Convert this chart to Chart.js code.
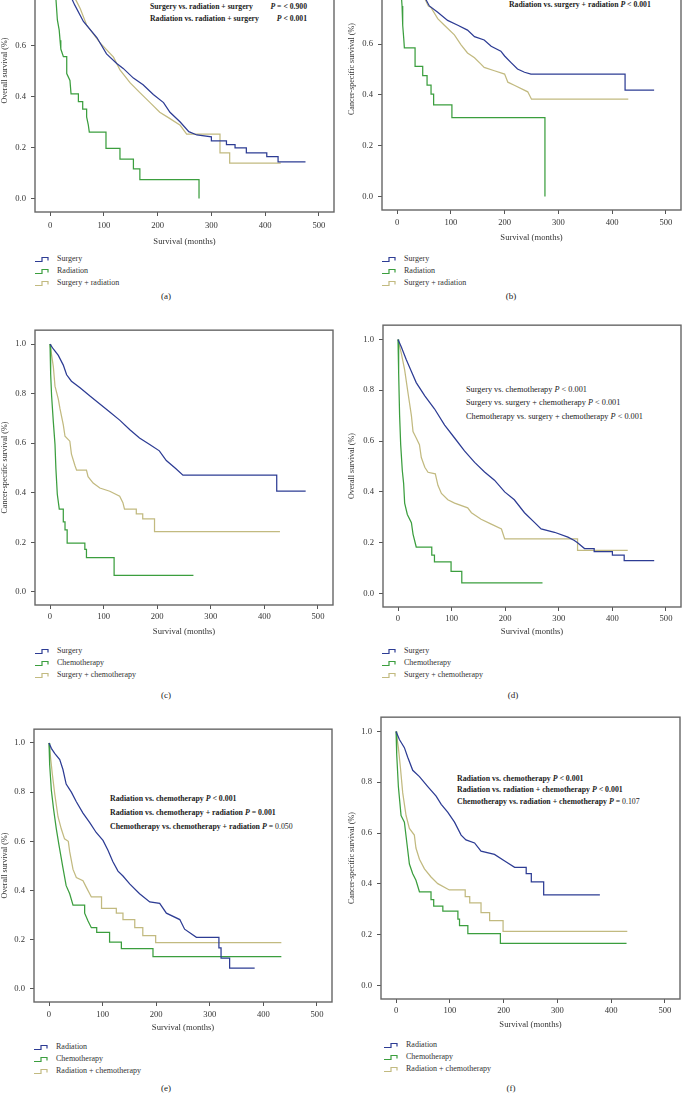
<!DOCTYPE html>
<html>
<head>
<meta charset="utf-8">
<script src="https://cdn.jsdelivr.net/npm/chart.js@4.4.0/dist/chart.umd.min.js"></script>
<style>
body{margin:0;width:682px;height:1094px;overflow:hidden;background:#fff;position:relative;font-family:"Liberation Serif","DejaVu Serif",serif;color:#222;}
canvas{position:absolute;}
.t{position:absolute;white-space:nowrap;font-size:8px;line-height:10px;}
.b{font-weight:bold;}
.lab{position:absolute;font-size:9px;line-height:10px;transform:translateX(-50%);}
.leg{position:absolute;font-size:8px;line-height:10px;white-space:nowrap;color:#333;}
.leg svg{position:absolute;left:-22px;top:2px;}
</style>
</head>
<body>

<div class="t b" data-g="a" style="left:150px;top:2px">Surgery vs. radiation + surgery</div>
<div class="t b" data-g="a" style="right:375px;top:2px"><i>P</i> = &lt; 0.900</div>
<div class="t b" data-g="a" data-fit="109" style="left:150px;top:14px">Radiation vs. radiation + surgery</div>
<div class="t b" data-g="a" style="right:375px;top:14px"><i>P</i> &lt; 0.001</div>

<div class="t b" data-g="b" data-fit="142" style="left:509px;top:0px">Radiation vs. surgery + radiation <i>P</i> &lt; 0.001</div>

<div class="t" data-g="d" style="left:466px;top:385px">Surgery vs. chemotherapy <i>P</i> &lt; 0.001</div>
<div class="t" data-g="d" style="left:466px;top:398px">Surgery vs. surgery + chemotherapy <i>P</i> &lt; 0.001</div>
<div class="t" data-g="d" data-fit="177" style="left:466px;top:412px">Chemotherapy vs. surgery + chemotherapy <i>P</i> &lt; 0.001</div>

<div class="t b" data-g="e" style="left:110px;top:794px">Radiation vs. chemotherapy <i>P</i> &lt; 0.001</div>
<div class="t b" data-g="e" style="left:110px;top:808px">Radiation vs. chemotherapy + radiation <i>P</i> = 0.001</div>
<div class="t b" data-g="e" data-fit="183" style="left:110px;top:822px">Chemotherapy vs. chemotherapy + radiation <i>P</i> = <span style="font-weight:normal">0.050</span></div>

<div class="t b" data-g="f" style="left:457px;top:774px">Radiation vs. chemotherapy <i>P</i> &lt; 0.001</div>
<div class="t b" data-g="f" style="left:457px;top:785px">Radiation vs. radiation + chemotherapy <i>P</i> &lt; 0.001</div>
<div class="t b" data-g="f" data-fit="183" style="left:457px;top:797px">Chemotherapy vs. radiation + chemotherapy <i>P</i> = <span style="font-weight:normal">0.107</span></div>

<div class="lab" style="left:166px;top:291px">(a)</div>
<div class="lab" style="left:511px;top:291px">(b)</div>
<div class="lab" style="left:166px;top:690px">(c)</div>
<div class="lab" style="left:513px;top:690px">(d)</div>
<div class="lab" style="left:166px;top:1083px">(e)</div>
<div class="lab" style="left:511px;top:1083px">(f)</div>

<script>
// tick labels
var xTicks = [0, 100, 200, 300, 400, 500];
var yTicks = [0, 0.2, 0.4, 0.6, 0.8, 1.0];

// (a) overall survival, surgery / radiation
var aSurgery = [[0,1],[10,0.94],[20,0.885],[30,0.835],[40,0.785],[46,0.758],[62,0.694],[87,0.631],[105,0.567],[124,0.529],[136,0.51],[155,0.472],[173,0.446],[192,0.408],[211,0.376],[223,0.338],[242,0.30],[258,0.262],[273,0.249],[300,0.242],[300,0.226],[328,0.226],[328,0.211],[344,0.211],[344,0.198],[365,0.198],[365,0.179],[403,0.179],[403,0.164],[424,0.164],[424,0.144],[475,0.144]];
var aRadiation = [[0,1],[4,0.93],[8,0.85],[11,0.78],[13.6,0.70],[17,0.66],[18.6,0.62],[20,0.586],[24.8,0.556],[31,0.556],[31,0.49],[37,0.463],[39,0.41],[52.7,0.41],[52.7,0.38],[60.7,0.38],[60.7,0.35],[68,0.35],[68,0.32],[71,0.29],[73,0.26],[104,0.26],[104,0.196],[130,0.196],[130,0.154],[155,0.154],[155,0.116],[167,0.116],[167,0.074],[277,0.074],[277,0]];
var aSurgRad = [[0,1],[10,0.96],[20,0.91],[30,0.86],[40,0.81],[50,0.77],[56,0.745],[68,0.68],[93,0.61],[118,0.554],[130,0.504],[149,0.453],[167,0.415],[186,0.376],[204,0.338],[223,0.313],[242,0.287],[254,0.252],[316,0.252],[316,0.179],[334,0.179],[334,0.139],[429,0.139]];

// (b) cancer-specific survival, surgery / radiation
var bSurgery = [[0,1],[10,0.97],[20,0.93],[30,0.88],[40,0.835],[50,0.79],[60,0.75],[75.6,0.725],[94,0.693],[113,0.674],[131,0.655],[144,0.629],[162,0.616],[175,0.591],[193,0.572],[200,0.553],[212,0.527],[224,0.502],[237,0.489],[249,0.482],[424,0.482],[424,0.419],[478,0.419]];
var bRadiation = [[0,1],[3,0.93],[6,0.85],[9.3,0.75],[10.5,0.674],[12.4,0.623],[13.6,0.585],[33.5,0.585],[33.5,0.512],[47.7,0.512],[47.7,0.476],[55.8,0.476],[55.8,0.438],[63.2,0.438],[63.2,0.403],[68,0.403],[68,0.361],[102,0.361],[102,0.31],[275,0.31],[275,0]];
var bSurgRad = [[0,1],[10,0.97],[20,0.93],[30,0.88],[40,0.83],[50,0.785],[58,0.75],[63,0.744],[75.6,0.70],[88,0.674],[106.6,0.636],[119,0.597],[131,0.565],[144,0.546],[156,0.521],[162,0.508],[181,0.495],[200,0.482],[206,0.45],[218,0.438],[243,0.412],[250,0.383],[430,0.383]];

// (c) cancer-specific survival, surgery / chemotherapy
var cSurgery = [[0,1],[6.2,0.98],[15.5,0.954],[24.8,0.915],[31,0.876],[40,0.85],[56,0.824],[74,0.791],[93,0.758],[111.5,0.726],[130,0.693],[149,0.654],[167,0.621],[186,0.595],[204,0.569],[217,0.53],[235,0.497],[248,0.471],[423,0.471],[423,0.406],[477,0.406]];
var cChemo = [[0,1],[1.2,0.88],[3,0.79],[6.2,0.686],[9.3,0.595],[11,0.497],[13.6,0.394],[17.3,0.334],[24.8,0.334],[24.8,0.282],[28,0.282],[28,0.25],[32,0.25],[32,0.197],[65,0.197],[65,0.171],[68,0.171],[68,0.138],[119.6,0.138],[119.6,0.067],[267.6,0.067]];
var cSurgChemo = [[0,1],[6.2,0.909],[9.3,0.83],[15.5,0.778],[18.6,0.739],[24.8,0.674],[28,0.628],[37,0.608],[40,0.556],[46.5,0.51],[49.6,0.491],[68,0.491],[71,0.465],[80.5,0.439],[93,0.419],[111.5,0.406],[130,0.386],[136,0.36],[139,0.334],[161,0.334],[161,0.315],[173,0.315],[173,0.295],[195,0.295],[195,0.243],[429,0.243]];

// (d) overall survival, surgery / chemotherapy
var dSurgery = [[0,1],[6.2,0.97],[15.5,0.92],[25,0.874],[34,0.83],[50,0.778],[68,0.727],[87,0.663],[105.6,0.612],[124,0.561],[143,0.516],[161.5,0.478],[180,0.446],[199,0.40],[217,0.369],[236,0.318],[255,0.279],[267,0.254],[292,0.241],[317,0.222],[329,0.209],[335,0.2],[348,0.177],[366,0.177],[366,0.165],[400,0.165],[400,0.151],[422,0.151],[422,0.129],[478,0.129]];
var dChemo = [[0,1],[1.2,0.868],[3,0.70],[5,0.586],[8,0.484],[10.5,0.433],[12.4,0.356],[17.4,0.311],[25,0.279],[28,0.234],[34,0.183],[63,0.183],[63,0.151],[68,0.151],[68,0.125],[99,0.125],[99,0.087],[119,0.087],[119,0.042],[269.6,0.042]];
var dSurgChemo = [[0,1],[6.2,0.945],[12.4,0.88],[18.6,0.79],[25,0.70],[28,0.637],[34,0.612],[40,0.586],[43.5,0.535],[50,0.497],[56,0.477],[69.6,0.471],[74.5,0.426],[81,0.394],[93,0.369],[105.6,0.356],[130,0.337],[137,0.318],[155,0.292],[174,0.273],[193,0.254],[199,0.215],[335,0.215],[335,0.17],[428.6,0.17]];

// (e) overall survival, radiation / chemotherapy
var eRadiation = [[0,1],[4.4,0.978],[10.6,0.958],[20,0.932],[26,0.892],[32,0.833],[41.7,0.80],[51,0.761],[63.4,0.715],[76,0.676],[88,0.636],[100.7,0.604],[110,0.564],[119,0.518],[128.7,0.479],[138,0.459],[150.5,0.427],[169,0.387],[188,0.354],[206.5,0.348],[219,0.308],[244,0.282],[253,0.243],[275,0.21],[317,0.21],[317,0.167],[321,0.167],[321,0.125],[337,0.125],[337,0.085],[383.7,0.085]];
var eChemo = [[0,1],[1.2,0.912],[4.4,0.807],[8.7,0.728],[13.7,0.65],[18.7,0.584],[26,0.492],[32,0.42],[38.6,0.387],[44.8,0.341],[66.5,0.341],[66.5,0.308],[72.8,0.276],[79,0.249],[89,0.249],[89,0.23],[113,0.23],[113,0.19],[135,0.19],[135,0.164],[194,0.164],[194,0.131],[433.5,0.131]];
var eRadChemo = [[0,1],[6.2,0.873],[10.6,0.794],[16.8,0.70],[23,0.65],[29,0.61],[36,0.60],[38.6,0.558],[44.8,0.486],[51,0.453],[63.4,0.44],[69.7,0.413],[79,0.374],[98,0.374],[98,0.328],[125.6,0.328],[125.6,0.308],[138,0.308],[138,0.282],[160,0.282],[160,0.249],[175,0.249],[175,0.217],[199,0.217],[199,0.188],[433.5,0.188]];

// (f) cancer-specific survival, radiation / chemotherapy
var fRadiation = [[0,1],[6.2,0.968],[15.5,0.936],[21.7,0.898],[31,0.847],[43.5,0.822],[59,0.783],[74.5,0.745],[84,0.713],[96,0.682],[108.7,0.643],[121,0.592],[130,0.573],[146,0.561],[158,0.529],[183,0.516],[202,0.49],[220.5,0.465],[242,0.465],[242,0.44],[251.5,0.44],[251.5,0.408],[274.5,0.408],[274.5,0.357],[379,0.357]];
var fChemo = [[0,1],[1.2,0.91],[4.3,0.783],[9.3,0.669],[15.5,0.643],[20.5,0.554],[24.8,0.478],[31,0.44],[37,0.414],[43.5,0.369],[65,0.369],[65,0.338],[70,0.338],[70,0.312],[87,0.312],[87,0.293],[115,0.293],[115,0.261],[118,0.261],[118,0.236],[133.5,0.236],[133.5,0.204],[194,0.204],[194,0.166],[428.6,0.166]];
var fRadChemo = [[0,1],[4.3,0.936],[8,0.86],[12.4,0.758],[18.6,0.669],[24.8,0.618],[34,0.592],[37,0.541],[43.5,0.497],[52.8,0.459],[65,0.427],[77.6,0.401],[99,0.376],[128.6,0.376],[128.6,0.35],[137,0.35],[137,0.325],[158,0.325],[158,0.287],[174,0.287],[174,0.255],[199,0.255],[199,0.213],[430,0.213]];

var blue = "#2d3c94", green = "#3b9e3e", yellow = "#c2ba80";

var panels = [
  {origin:0,   box:[35,-79,334,212],  xH:35, tickGap:5, yPad:0, yTitle:"Overall survival (%)",
   names:["Surgery","Radiation","Surgery + radiation"], data:[aSurgery,aRadiation,aSurgRad], leg:[57,254]},
  {origin:341, box:[382,-80,681,210], xH:33, tickGap:4, yPad:6, yTitle:"Cancer-specific survival (%)",
   names:["Surgery","Radiation","Surgery + radiation"], data:[bSurgery,bRadiation,bSurgRad], leg:[404,254]},
  {origin:0,   box:[35,322,333,605],  xH:32, tickGap:3, yPad:0, yTitle:"Cancer-specific survival (%)",
   names:["Surgery","Chemotherapy","Surgery + chemotherapy"], data:[cSurgery,cChemo,cSurgChemo], leg:[57,646]},
  {origin:341, box:[383,317,681,607], xH:30, tickGap:3, yPad:6, yTitle:"Overall survival (%)",
   names:["Surgery","Chemotherapy","Surgery + chemotherapy"], data:[dSurgery,dChemo,dSurgChemo], leg:[404,646]},
  {origin:0,   box:[34,721,332,1002], xH:31, tickGap:4, yPad:0, yTitle:"Overall survival (%)",
   names:["Radiation","Chemotherapy","Radiation + chemotherapy"], data:[eRadiation,eChemo,eRadChemo], leg:[56,1042]},
  {origin:341, box:[381,709,680,999], xH:31, tickGap:3, yPad:6, yTitle:"Cancer-specific survival (%)",
   names:["Radiation","Chemotherapy","Radiation + chemotherapy"], data:[fRadiation,fChemo,fRadChemo], leg:[406,1040]}
];

var boxPlugin = {
  id: "box",
  afterDraw: function(chart) {
    var a = chart.chartArea, ctx = chart.ctx;
    ctx.save();
    ctx.strokeStyle = "#666";
    ctx.lineWidth = 1.4;
    ctx.strokeRect(a.left, a.top, a.right - a.left, a.bottom - a.top);
    ctx.restore();
  }
};

function makePanel(p) {
  var cv = document.createElement("canvas");
  var left = p.origin, top = p.box[1] - 2;
  var w = p.box[2] - left + 2, h = p.box[3] + p.xH - top;
  cv.width = w; cv.height = h;
  cv.style.left = left + "px"; cv.style.top = top + "px";
  cv.style.width = w + "px"; cv.style.height = h + "px";
  document.body.appendChild(cv);

  var colors = [blue, green, yellow];
  var sets = p.data.map(function(d, i) {
    return {
      label: p.names[i],
      data: d.map(function(pt) { return {x: pt[0], y: pt[1]}; }),
      borderColor: colors[i],
      borderWidth: 1.25,
      pointRadius: 0,
      fill: false,
      tension: 0
    };
  });

  var axisFont = {family: "Liberation Serif", size: 8.6};

  new Chart(cv, {
    type: "line",
    data: {datasets: sets},
    plugins: [boxPlugin],
    options: {
      responsive: false,
      animation: false,
      devicePixelRatio: 1,
      layout: {padding: {top: 2, right: 2, left: 0, bottom: 0}},
      plugins: {legend: {display: false}, tooltip: {enabled: false}},
      scales: {
        x: {
          type: "linear", min: -28, max: 528,
          afterBuildTicks: function(s) { s.ticks = xTicks.map(function(v) { return {value: v}; }); },
          afterFit: function(s) { s.height = p.xH; },
          grid: {drawOnChartArea: false, tickLength: 4, color: "#555"},
          border: {display: false},
          ticks: {padding: p.tickGap, color: "#333", font: axisFont, maxRotation: 0,
                  callback: function(v) { return String(v); }},
          title: {display: true, text: "Survival (months)", color: "#333", padding: 0, font: axisFont}
        },
        y: {
          type: "linear", min: -0.053, max: 1.056,
          afterBuildTicks: function(s) { s.ticks = yTicks.map(function(v) { return {value: v}; }); },
          afterFit: function(s) { s.width = p.box[0] - p.origin; },
          grid: {drawOnChartArea: false, tickLength: 4, color: "#555"},
          border: {display: false},
          ticks: {padding: 5, color: "#333", font: axisFont,
                  callback: function(v) { return Number(v).toFixed(1); }},
          title: {display: true, text: p.yTitle, color: "#333", padding: {top: p.yPad, bottom: 0},
                  font: {family: "Liberation Serif", size: 8}}
        }
      }
    }
  });

  // legend under the panel
  p.names.forEach(function(n, i) {
    var d = document.createElement("div");
    d.className = "leg";
    d.style.left = p.leg[0] + "px";
    d.style.top = (p.leg[1] + i * 12) + "px";
    d.innerHTML = '<svg width="15" height="7"><path d="M0 5.5 H7 V1.5 H13 V4.5" fill="none" stroke="' +
      colors[i] + '" stroke-width="1.2"/></svg>' + n;
    document.body.appendChild(d);
  });
}

panels.forEach(makePanel);

document.querySelectorAll("[data-fit]").forEach(function(ref) {
  var want = Number(ref.getAttribute("data-fit"));
  var got = ref.getBoundingClientRect().width;
  if (!got) return;
  var size = (8 * want / got).toFixed(2) + "px";
  document.querySelectorAll('[data-g="' + ref.getAttribute("data-g") + '"]').forEach(function(el) {
    el.style.fontSize = size;
  });
});
</script>
</body>
</html>
